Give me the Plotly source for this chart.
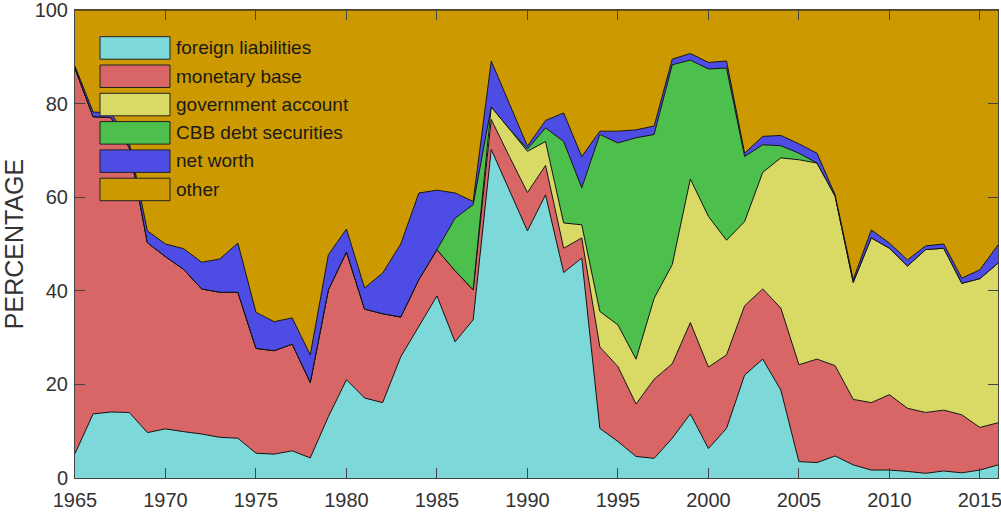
import plotly.graph_objects as go

years = list(range(1965, 2017))

# cumulative upper boundaries of each layer (percent of total)
top_foreign = [5.2, 13.7, 14.1, 14.0, 9.7, 10.5, 9.9, 9.4, 8.7, 8.5,
               5.3, 5.1, 5.8, 4.3, 13.1, 21.0, 17.1, 16.1, 25.9, 32.4,
               38.9, 29.1, 33.8, 70.2, 61.5, 52.8, 60.5, 43.9, 47.0, 10.6,
               7.8, 4.6, 4.2, 8.5, 13.7, 6.3, 10.6, 22.0, 25.4, 18.8,
               3.5, 3.3, 4.7, 2.8, 1.7, 1.7, 1.4, 1.0, 1.5, 1.1,
               1.7, 2.8]
top_monetary = [87.5, 77.2, 77.0, 70.6, 50.3, 47.3, 44.6, 40.4, 39.7, 39.7,
                27.7, 27.2, 28.6, 20.4, 40.2, 48.3, 36.1, 35.1, 34.4, 42.4,
                48.8, 44.3, 40.2, 76.6, 68.7, 61.0, 66.8, 49.1, 51.3, 28.0,
                23.8, 15.8, 21.1, 24.4, 33.2, 23.7, 26.3, 36.8, 40.4, 36.3,
                24.2, 25.4, 24.0, 16.8, 16.1, 17.8, 14.9, 14.0, 14.5, 13.5,
                10.8, 11.8]
top_government = [87.5, 77.2, 77.0, 70.6, 50.3, 47.3, 44.6, 40.4, 39.7, 39.7,
                  27.7, 27.2, 28.6, 20.4, 40.2, 48.3, 36.1, 35.1, 34.4, 42.4,
                  48.8, 44.3, 40.2, 79.3, 74.6, 69.8, 71.9, 54.5, 54.1, 35.6,
                  32.7, 25.4, 38.4, 45.6, 63.9, 55.9, 50.8, 54.8, 65.3, 68.4,
                  68.0, 67.3, 60.2, 41.8, 51.3, 49.1, 45.3, 48.8, 49.1, 41.6,
                  42.6, 45.9]
top_cbb = [87.5, 77.2, 77.0, 70.6, 50.3, 47.3, 44.6, 40.4, 39.7, 39.7,
           27.7, 27.2, 28.6, 20.4, 40.2, 48.3, 36.1, 35.1, 34.4, 42.4,
           48.8, 55.5, 58.4, 79.3, 74.6, 70.3, 74.8, 71.9, 62.0, 73.4,
           71.6, 72.7, 73.4, 88.3, 89.3, 87.4, 87.6, 68.7, 71.2, 71.0,
           69.4, 67.3, 60.2, 41.8, 51.3, 49.1, 45.3, 48.8, 49.1, 41.6,
           42.6, 45.9]
top_networth = [88.0, 78.2, 78.0, 71.6, 52.8, 50.0, 49.0, 46.1, 46.8, 50.2,
                35.4, 33.4, 34.2, 26.3, 47.7, 53.2, 40.6, 43.8, 50.0, 60.9,
                61.5, 60.9, 59.1, 89.1, 80.0, 70.9, 76.4, 78.0, 68.7, 74.1,
                74.1, 74.4, 75.2, 89.5, 90.7, 88.8, 89.1, 69.4, 73.0, 73.2,
                71.4, 69.4, 60.5, 42.4, 53.0, 50.2, 46.6, 49.6, 50.0, 42.7,
                44.5, 49.8]

def layer(upper, lower):
    return [round(u - l, 2) for u, l in zip(upper, lower)]

foreign_liabilities = top_foreign
monetary_base = layer(top_monetary, top_foreign)
government_account = layer(top_government, top_monetary)
cbb_debt = layer(top_cbb, top_government)
net_worth = layer(top_networth, top_cbb)
other = [round(100 - t, 2) for t in top_networth]

series = [
    ("foreign liabilities", foreign_liabilities, "#7dd9d9"),
    ("monetary base", monetary_base, "#d96666"),
    ("government account", government_account, "#d9d966"),
    ("CBB debt securities", cbb_debt, "#4dbf4d"),
    ("net worth", net_worth, "#4d4de6"),
    ("other", other, "#cc9900"),
]

fig = go.Figure()
for name, vals, col in series:
    fig.add_trace(go.Scatter(
        x=years, y=vals, name=name, stackgroup="one", mode="lines",
        line=dict(color="#111111", width=1), fillcolor=col,
        showlegend=False, hoverinfo="x+y+name",
    ))

W, H = 1001, 516
L, R, T, B = 75, 3, 10, 38
pw, ph = W - L - R, H - T - B

def px_x(x):
    return (x - L) / pw

def px_y(y):
    return (H - B - y) / ph

FONT = "Liberation Sans, Arial"

# legend drawn as boxed swatches with labels
shapes = []
annotations = []
for i, (name, _, col) in enumerate(series):
    y0 = 36.7 + i * 28.3
    shapes.append(dict(type="rect", xref="paper", yref="paper",
                       x0=px_x(100), x1=px_x(170), y0=px_y(y0 + 22.5), y1=px_y(y0),
                       fillcolor=col, line=dict(color="#222222", width=1)))
    annotations.append(dict(xref="paper", yref="paper", x=px_x(174), y=px_y(y0 + 11),
                            text=name, showarrow=False, xanchor="left", yanchor="middle",
                            font=dict(family=FONT, size=19, color="#1a1a1a")))

axis_common = dict(showline=True, linecolor="#444444", linewidth=1, mirror="allticks",
                   ticks="inside", ticklen=10, tickcolor="#444444", showgrid=False,
                   zeroline=False, ticklabeloverflow="allow", automargin=False,
                   tickfont=dict(family=FONT, size=20, color="#333333"))

fig.update_layout(
    width=W, height=H,
    margin=dict(l=L, r=R, t=T, b=B),
    paper_bgcolor="white", plot_bgcolor="white",
    shapes=shapes, annotations=annotations,
    xaxis=dict(range=[1965, 2016], tickvals=list(range(1965, 2016, 5)),
               ticklabelstandoff=4, **axis_common),
    yaxis=dict(range=[0, 100], tickvals=[0, 20, 40, 60, 80, 100],
               ticklabelstandoff=2,
               title=dict(text="PERCENTAGE", standoff=16,
                          font=dict(family=FONT, size=25, color="#333333")),
               **axis_common),
)

fig.write_html("out.html")
